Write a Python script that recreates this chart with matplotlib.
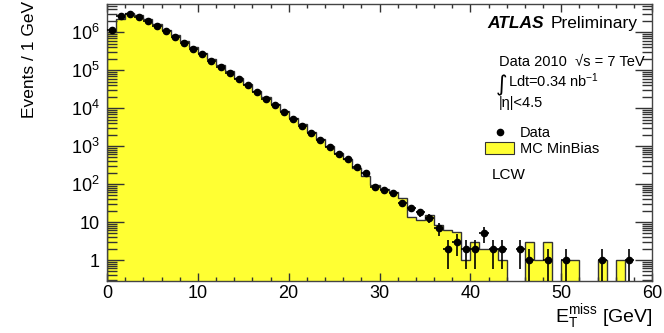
import numpy as np
import matplotlib
matplotlib.use('Agg')
import matplotlib.pyplot as plt
from matplotlib.ticker import FixedLocator, MultipleLocator, FuncFormatter, LogLocator, NullFormatter
from matplotlib.patches import Patch
from matplotlib.lines import Line2D

plt.rcParams['font.family'] = ['Liberation Sans', 'DejaVu Sans']
plt.rcParams['mathtext.fontset'] = 'custom'
plt.rcParams['mathtext.rm'] = 'Liberation Sans'
plt.rcParams['mathtext.it'] = 'Liberation Sans:italic'
plt.rcParams['mathtext.bf'] = 'Liberation Sans:bold'

# 1 GeV bins, 0 - 60 GeV
bin_edges = np.arange(0, 61, 1)

# observed events per bin
data_counts = [1.15e6, 2.7e6, 2.95e6, 2.5e6, 1.95e6, 1.45e6, 1.04e6, 7.4e5, 5.2e5, 3.7e5,
               2.6e5, 1.78e5, 1.24e5, 8.4e4, 5.8e4, 4.0e4, 2.6e4, 1.74e4, 1.18e4, 7.9e3,
               5.2e3, 3.45e3, 2.2e3, 1.45e3, 960, 630, 445, 285, 190, 85,
               69, 59, 32, 24, 18, 13, 7, 2, 3, 2,
               2, 5, 2, 2, 0, 2, 1, 0, 1, 0,
               1, 0, 0, 0, 1, 0, 0, 1, 0, 0]

# minimum bias simulation, normalised
mc_counts = [1.0e6, 2.2e6, 3.2e6, 2.8e6, 2.15e6, 1.6e6, 1.15e6, 8.2e5, 5.8e5, 4.1e5,
             2.85e5, 1.95e5, 1.35e5, 9.2e4, 6.3e4, 4.3e4, 2.85e4, 1.9e4, 1.28e4, 8.5e3,
             5.6e3, 3.7e3, 2.4e3, 1.55e3, 1.02e3, 670, 460, 270, 165, 92,
             72, 62, 44, 13.5, 11, 15.5, 8.5, 6, 5.5, 1,
             3, 2, 2, 1, 0, 0, 3, 1, 3, 0,
             1, 1, 0, 0, 1, 0, 1, 0, 0, 0]

decades = [1, 10, 1e2, 1e3, 1e4, 1e5, 1e6]
decade_labels = ['1', '10', '$10^{2}$', '$10^{3}$', '$10^{4}$', '$10^{5}$', '$10^{6}$']

W, H = 664, 333
fig = plt.figure(figsize=(W / 100, H / 100), dpi=100)
ax = fig.add_axes([107 / W, 1 - 281 / H, (652 - 107) / W, (281 - 4) / H])

def fpos(x, y):
    # pixel position -> figure fraction
    return x / W, 1 - y / H

data = np.array(data_counts, dtype=float)
mc = np.array(mc_counts, dtype=float)
centers = 0.5 * (bin_edges[:-1] + bin_edges[1:])

ax.set_yscale('log', nonpositive='clip')

# MC histogram: yellow fill with a dark outline
ax.stairs(mc, bin_edges, fill=True, color='#ffff33', baseline=1e-3, zorder=1)
ax.stairs(mc, bin_edges, color='#333333', lw=1.0, baseline=1e-3, zorder=2)

# data points with poisson errors
nz = data > 0
ax.errorbar(centers[nz], data[nz], yerr=np.sqrt(data[nz]), xerr=0.5,
            fmt='none', ecolor='black', elinewidth=1.2, zorder=3)
ax.plot(centers[nz], data[nz], 'o', color='black', ms=4.5, zorder=4)

ax.set_xlim(0, 60)
ax.set_ylim(0.28, 5.5e6)

ax.xaxis.set_major_locator(MultipleLocator(10))
ax.xaxis.set_minor_locator(MultipleLocator(2))
ax.yaxis.set_major_locator(FixedLocator(decades))
ax.yaxis.set_major_formatter(FuncFormatter(lambda v, p: decade_labels[decades.index(v)] if v in decades else ''))
ax.yaxis.set_minor_locator(LogLocator(base=10, subs=range(2, 10), numticks=20))
ax.yaxis.set_minor_formatter(NullFormatter())

ax.tick_params(which='both', direction='in', top=True, right=True, colors='#333333',
               labelcolor='black', labelsize=13)
ax.tick_params(axis='x', which='major', length=5.8, width=1.0, pad=3)
ax.tick_params(axis='x', which='minor', length=2.9, width=1.0)
ax.tick_params(axis='y', which='major', length=12, width=1.0, pad=5)
ax.tick_params(axis='y', which='minor', length=7, width=1.0)
for s in ax.spines.values():
    s.set_color('#444444')
    s.set_linewidth(1.0)

# axis titles
fig.text(*fpos(30, 1), 'Events / 1 GeV', rotation=90, ha='center', va='top', fontsize=12.5)
fig.text(*fpos(653, 331), r'E$_{\mathrm{T}}^{\mathrm{miss}}$ [GeV]', ha='right', va='bottom', fontsize=14)

# labels in the upper right
t1 = fig.text(*fpos(487, 28), 'ATLAS', fontsize=12.5, fontweight='bold', fontstyle='italic', va='baseline')
ax.annotate('Preliminary', xy=(1, 0), xycoords=t1, xytext=(5, 0), textcoords='offset points',
            fontsize=12.5, va='bottom')
fig.text(*fpos(499, 62), u'Data 2010  \u221As = 7 TeV', fontsize=10.5, va='center')
fig.text(*fpos(496, 85), u'\u222b', fontsize=16, va='center', family='DejaVu Sans')
fig.text(*fpos(508, 81), r'Ldt=0.34 nb$^{-1}$', fontsize=10.5, va='center')
fig.text(*fpos(499, 103), u'|\u03b7|<4.5', fontsize=10.5, va='center')
fig.text(*fpos(492, 175), 'LCW', fontsize=11, va='center')

handles = [Line2D([], [], marker='o', color='black', ms=4.5, ls='none'),
           Patch(facecolor='#ffff33', edgecolor='#333333', lw=0.8)]
fig.legend(handles, ['Data', 'MC MinBias'], loc='upper left', bbox_to_anchor=fpos(485, 126),
           frameon=False, fontsize=10.5, borderpad=0, handlelength=2.0, handleheight=0.9,
           handletextpad=0.4, labelspacing=0.15, borderaxespad=0)

fig.savefig('out.png', dpi=100)
